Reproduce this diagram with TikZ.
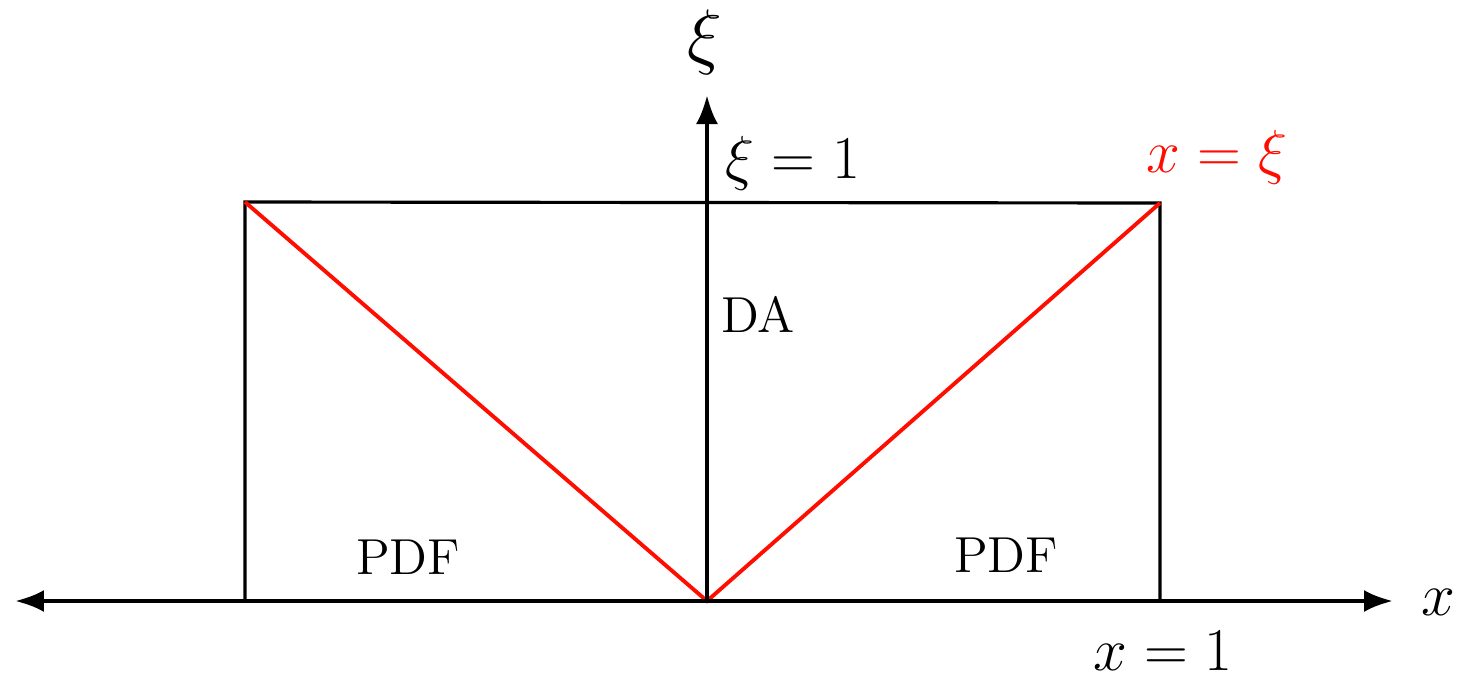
\documentclass[tikz,border=0pt]{standalone}
\usepackage{amsmath,amssymb}
\usetikzlibrary{arrows.meta}

\begin{document}
\begin{tikzpicture}[scale=1.0,
    axis/.style={line width=1.2pt,-{Latex[length=2.9mm,width=2.2mm]}},
    frame/.style={line width=0.9pt},
    cone/.style={line width=1.1pt,red!90!orange}]
  \useasboundingbox (0,0) rectangle (14.6,6.77);
  % Origin and support points
  \coordinate (O) at (7.07,0.76);
  \coordinate (xl) at (0.15,0.76);
  \coordinate (xr) at (13.93,0.76);
  \coordinate (yt) at (7.07,5.82);
  \coordinate (bl) at (2.45,0.76);
  \coordinate (br) at (11.60,0.76);
  \coordinate (tl) at (2.45,4.75);
  \coordinate (tr) at (11.60,4.74);
  % Box
  \draw[frame] (bl) -- (tl) -- (tr) -- (br);
  % Lines x = xi
  \draw[cone] (tl) -- (O) -- (tr);
  % Axes
  \draw[axis] (O) -- (xl);
  \draw[axis] (O) -- (xr);
  \draw[axis] (O) -- (yt);
  \node[font=\huge] (xilab) at (7.05,6.35) {$\xi$};
  \node[font=\LARGE] (xlab) at (14.38,0.75) {$x$};
  % Labels
  \node[font=\LARGE] (xione) at (7.93,5.14) {$\xi=1$};
  \node[font=\LARGE,red!90!orange] (xeqxi) at (12.17,5.2) {$x=\xi$};
  \node[font=\LARGE] (xone) at (11.63,0.26) {$x=1$};
  \node[font=\Large] (da) at (7.58,3.63) {DA};
  \node[font=\Large] (pdfl) at (4.08,1.2) {PDF};
  \node[font=\Large] (pdfr) at (10.06,1.22) {PDF};
\end{tikzpicture}
\end{document}
